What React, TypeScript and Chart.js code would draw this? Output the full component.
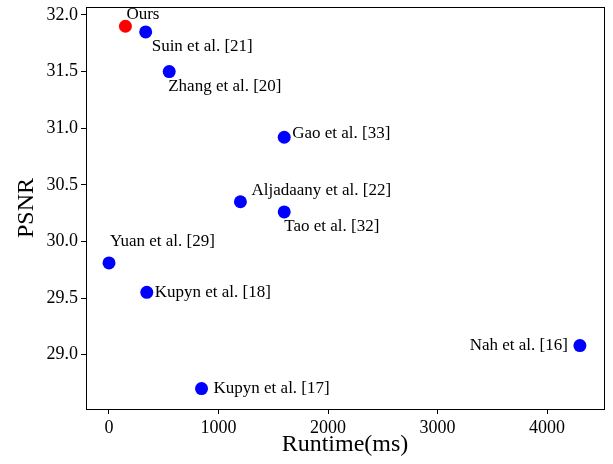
import React, { useEffect, useRef } from "react";
import { Chart, registerables } from "chart.js";

Chart.register(...registerables);

const methods = [
  "Ours",
  "Suin et al. [21]",
  "Zhang et al. [20]",
  "Gao et al. [33]",
  "Aljadaany et al. [22]",
  "Tao et al. [32]",
  "Yuan et al. [29]",
  "Kupyn et al. [18]",
  "Kupyn et al. [17]",
  "Nah et al. [16]",
];
const runtimes = [150, 335, 550, 1600, 1200, 1600, 0, 345, 845, 4300];
const psnr = [31.9, 31.85, 31.5, 30.92, 30.35, 30.26, 29.81, 29.55, 28.7, 29.08];
const xTicks = [0, 1000, 2000, 3000, 4000];
const yTicks = [29.0, 29.5, 30.0, 30.5, 31.0, 31.5, 32.0];

// label placement relative to each point (dx, dy in px, align)
const labelOffsets: [number, number, CanvasTextAlign][] = [
  [1, -12, "left"],
  [6, 15, "left"],
  [-1, 15, "left"],
  [8, -4, "left"],
  [11, -11, "left"],
  [0, 15, "left"],
  [1, -21, "left"],
  [8, 0, "left"],
  [12, 0, "left"],
  [-12, 0, "right"],
];

const FONT = "'Liberation Serif', 'Times New Roman', serif";

export default function App() {
  const ref = useRef<HTMLCanvasElement | null>(null);
  useEffect(() => {
    document.body.style.margin = "0";
    if (!ref.current) return;
    const labelPlugin = {
      id: "labels",
      afterDatasetsDraw(chart: any) {
        const ctx = chart.ctx;
        const meta = chart.getDatasetMeta(0);
        ctx.save();
        ctx.font = `17px ${FONT}`;
        ctx.fillStyle = "#000";
        ctx.textBaseline = "middle";
        meta.data.forEach((el: any, i: number) => {
          const [dx, dy, al] = labelOffsets[i];
          ctx.textAlign = al;
          ctx.fillText(methods[i], el.x + dx, el.y + dy);
        });
        ctx.restore();
      },
    };
    const framePlugin = {
      id: "frame",
      afterDraw(chart: any) {
        const { ctx, chartArea } = chart;
        ctx.save();
        ctx.strokeStyle = "#000";
        ctx.lineWidth = 1;
        ctx.strokeRect(
          Math.round(chartArea.left) + 0.5,
          Math.round(chartArea.top) + 0.5,
          Math.round(chartArea.right - chartArea.left),
          Math.round(chartArea.bottom - chartArea.top)
        );
        ctx.restore();
      },
    };
    const chart = new Chart(ref.current, {
      type: "scatter",
      data: {
        datasets: [
          {
            data: runtimes.map((x, i) => ({ x, y: psnr[i] })),
            pointBackgroundColor: methods.map((m) => (m === "Ours" ? "#ff0000" : "#0000ff")),
            pointBorderWidth: 0,
            pointRadius: 6.5,
            pointHoverRadius: 6.5,
          },
        ],
      },
      options: {
        animation: false,
        responsive: true,
        maintainAspectRatio: false,
        layout: { padding: { top: 7, right: 9, left: 0, bottom: 0 } },
        plugins: { legend: { display: false }, tooltip: { enabled: false } },
        scales: {
          x: {
            type: "linear",
            min: -210,
            max: 4520,
            afterBuildTicks: (s: any) => {
              s.ticks = xTicks.map((v) => ({ value: v }));
            },
            afterFit: (s: any) => {
              s.height = 55;
              s.paddingLeft = 0;
              s.paddingRight = 0;
            },
            ticks: {
              color: "#000",
              font: { family: FONT, size: 18 },
              callback: (v: any) => String(v),
              maxRotation: 0,
              padding: 3,
            },
            grid: { drawOnChartArea: false, drawTicks: true, tickLength: 5, color: "#000" },
            border: { display: true, color: "#000" },
            title: {
              display: true,
              text: "Runtime(ms)",
              color: "#000",
              font: { family: FONT, size: 24 },
              padding: { top: 0, bottom: 5 },
            },
          },
          y: {
            type: "linear",
            min: 28.52,
            max: 32.07,
            afterBuildTicks: (s: any) => {
              s.ticks = yTicks.map((v) => ({ value: v }));
            },
            afterFit: (s: any) => {
              s.width = 86;
              s.paddingTop = 0;
              s.paddingBottom = 0;
            },
            ticks: {
              color: "#000",
              font: { family: FONT, size: 18 },
              callback: (v: any) => Number(v).toFixed(1),
              padding: 3,
            },
            grid: { drawOnChartArea: false, drawTicks: true, tickLength: 5, color: "#000" },
            border: { display: true, color: "#000" },
            title: {
              display: true,
              text: "PSNR",
              color: "#000",
              font: { family: FONT, size: 24 },
              padding: { top: 12, bottom: 0 },
            },
          },
        },
      },
      plugins: [labelPlugin, framePlugin],
    } as any);
    return () => chart.destroy();
  }, []);
  return (
    <div style={{ width: 613, height: 464, position: "relative" }}>
      <canvas ref={ref} />
    </div>
  );
}
